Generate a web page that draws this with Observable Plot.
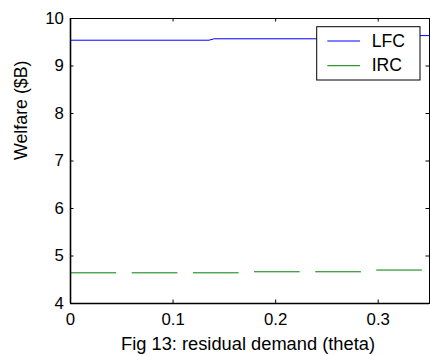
<!DOCTYPE html>
<html>
<head>
<meta charset="utf-8">
<script src="https://cdn.jsdelivr.net/npm/d3@7"></script>
<script src="https://cdn.jsdelivr.net/npm/@observablehq/plot@0.6"></script>
<style>
  html, body { margin: 0; padding: 0; background: #fff; }
  #chart svg { display: block; }
</style>
</head>
<body>
<div id="chart"></div>
<script>
// ---- data ----
const seriesNames = ["LFC", "IRC"];
const seriesColors = ["#0000ff", "#008000"];
const lfcTheta = [0, 0.135, 0.14, 0.28, 0.285, 0.35];
const lfcWelfare = [9.543, 9.543, 9.573, 9.573, 9.64, 9.64];
const ircTheta = [0, 0.165, 0.172, 0.287, 0.293, 0.35];
const ircWelfare = [4.646, 4.646, 4.668, 4.668, 4.704, 4.704];
const xTicks = [0, 0.1, 0.2, 0.3];
const xTickLabels = ["0", "0.1", "0.2", "0.3"];
const yTicks = [4, 5, 6, 7, 8, 9, 10];
const yTickLabels = ["4", "5", "6", "7", "8", "9", "10"];
const xLabel = "Fig 13: residual demand (theta)";
const yLabel = "Welfare ($B)";

// ---- layout ----
const W = 430, H = 356;
const mL = 70, mR = 1, mT = 18, mB = 53;
const plotW = W - mL - mR, plotH = H - mT - mB;
const tickLen = 3.5;
const font = "'Liberation Sans', Arial, Helvetica, sans-serif";

const lfc = lfcTheta.map((t, i) => ({theta: t, welfare: lfcWelfare[i]}));
const irc = ircTheta.map((t, i) => ({theta: t, welfare: ircWelfare[i]}));

const plot = Plot.plot({
  width: W, height: H,
  marginLeft: mL, marginRight: mR, marginTop: mT, marginBottom: mB,
  style: {fontFamily: font, fontSize: "16.8px", color: "black", background: "white"},
  x: {domain: [0, 0.35]},
  y: {domain: [4, 10]},
  marks: [
    Plot.line(lfc, {x: "theta", y: "welfare", stroke: seriesColors[0], strokeWidth: 1}),
    Plot.line(irc, {x: "theta", y: "welfare", stroke: seriesColors[1], strokeWidth: 1,
      strokeDasharray: "45.7,15.5", strokeLinecap: "butt"}),
    Plot.frame({stroke: "black", strokeWidth: 1}),
    Plot.ruleX([0], {stroke: "black", strokeWidth: 1.6}),
    Plot.ruleY([4], {stroke: "black", strokeWidth: 1.6}),
    // inward ticks, all four sides
    Plot.tickX(xTicks, {x: d => d, insetTop: plotH - tickLen, stroke: "black"}),
    Plot.tickX(xTicks, {x: d => d, insetBottom: plotH - tickLen, stroke: "black"}),
    Plot.tickY(yTicks, {y: d => d, insetRight: plotW - tickLen, stroke: "black"}),
    Plot.tickY(yTicks, {y: d => d, insetLeft: plotW - tickLen, stroke: "black"}),
    Plot.axisX({anchor: "bottom", ticks: xTicks, tickSize: 0, tickPadding: 9.3,
      tickFormat: d => xTickLabels[xTicks.indexOf(d)], label: null, fontSize: 16.8}),
    Plot.axisY({anchor: "left", ticks: yTicks, tickSize: 0, tickPadding: 6.7,
      tickFormat: d => yTickLabels[yTicks.indexOf(d)], label: null, fontSize: 16.8}),
    Plot.text([xLabel], {frameAnchor: "bottom", dy: 46.3, dx: -2, lineAnchor: "bottom",
      fontSize: 18.3, fill: "black"}),
    Plot.text([yLabel], {frameAnchor: "left", rotate: -90, dx: -43.5, dy: -1, lineAnchor: "bottom",
      fontSize: 17.8, fill: "black"})
  ]
});

// ---- legend box (MATLAB style) ----
const svg = d3.select(plot);
const lg = svg.append("g").attr("font-family", font).attr("font-size", 17.6)
  .attr("text-anchor", "start");
const box = {x: 316.7, y: 26.7, w: 103.3, h: 53.3};
lg.append("rect").attr("x", box.x).attr("y", box.y).attr("width", box.w).attr("height", box.h)
  .attr("fill", "white").attr("stroke", "black").attr("stroke-width", 1);
const rowY = [41, 65.7];
const baseY = [47.3, 70.7];
seriesNames.forEach((name, i) => {
  lg.append("line").attr("x1", 327.3).attr("x2", 360).attr("y1", rowY[i]).attr("y2", rowY[i])
    .attr("stroke", seriesColors[i]).attr("stroke-width", 1);
  lg.append("text").attr("x", 371.7).attr("y", baseY[i]).attr("fill", "black")
    .attr("text-anchor", "start").text(name);
});

document.getElementById("chart").appendChild(plot);
</script>
</body>
</html>
